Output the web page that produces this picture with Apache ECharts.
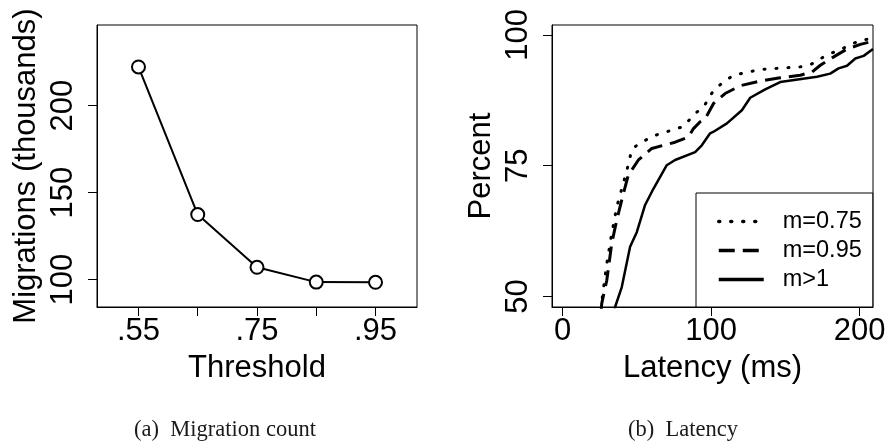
<!DOCTYPE html>
<html>
<head>
<meta charset="utf-8">
<script src="https://cdn.jsdelivr.net/npm/echarts@6/dist/echarts.min.js"></script>
<style>html,body{margin:0;padding:0;background:#fff}#c{width:889px;height:442px}</style>
</head>
<body>
<div id="c"></div>
<script>
// ---- Panel (a): migration count ----
var thresholds = [0.55, 0.65, 0.75, 0.85, 0.95];
var migrations = [222.2, 137.4, 107.1, 98.6, 98.5];
var thresholdTicks = [0.55, 0.65, 0.75, 0.85, 0.95];
var thresholdLabels = [0.55, 0.75, 0.95];
var migrationTicks = [100, 150, 200];

// ---- Panel (b): latency CDF ----
var latencyNames = ['m=0.75', 'm=0.95', 'm>1'];
var latX075 = [26.0, 26.3, 29.7, 33.0, 36.4, 43.2, 46.5, 51.0, 62.2, 74.6, 81.3, 89.2, 94.8, 101.6, 108.3, 115.0, 133.0, 160.0, 166.8, 176.9, 189.2, 200.5, 209.0];
var latY075 = [47.5, 49.0, 56.3, 62.0, 67.1, 74.1, 78.0, 79.2, 80.8, 81.9, 82.5, 85.0, 86.2, 89.4, 91.0, 92.3, 93.4, 93.9, 94.3, 96.0, 97.5, 99.0, 99.3];
var latX095 = [26.0, 26.3, 29.7, 33.0, 36.4, 40.9, 44.2, 51.0, 60.0, 75.7, 84.7, 88.1, 92.6, 96.0, 101.6, 109.4, 119.6, 133.0, 146.5, 160.0, 167.9, 173.5, 182.5, 191.5, 200.5, 209.0];
var latY095 = [47.5, 48.7, 53.1, 60.1, 64.6, 69.7, 73.2, 76.1, 78.3, 79.5, 80.5, 82.1, 83.4, 84.0, 86.9, 88.8, 90.3, 91.2, 91.8, 92.3, 92.9, 94.2, 95.8, 97.3, 98.2, 98.8];
var latX1 = [35.0, 35.3, 39.8, 45.4, 49.9, 55.5, 61.1, 70.1, 75.7, 89.2, 93.7, 99.3, 101.6, 110.6, 120.7, 126.3, 136.4, 146.5, 171.3, 180.2, 185.8, 191.5, 197.1, 202.7, 209.0];
var latY1 = [47.5, 48.0, 51.8, 59.5, 62.3, 67.5, 70.6, 75.1, 76.1, 77.6, 78.9, 81.2, 81.5, 83.1, 85.6, 88.0, 89.6, 91.0, 92.0, 92.6, 93.6, 94.1, 95.5, 96.0, 97.3];
var latencyTicks = [0, 100, 200];
var percentTicks = [50, 75, 100];

var captions = ['(a)  Migration count', '(b)  Latency'];

function zip(xs, ys) { return xs.map(function (x, i) { return [x, ys[i]]; }); }

var FONT = 'Liberation Sans, Arial, Helvetica, sans-serif';
var SERIF = 'Liberation Serif, Times New Roman, serif';
var FS = 31;
var black = '#000';

function valAxis(opts) {
  return Object.assign({
    type: 'value',
    splitLine: { show: false },
    axisLine: { show: true, onZero: false, lineStyle: { color: black, width: 1 } },
    nameTextStyle: { color: black, fontFamily: FONT, fontSize: FS },
    nameLocation: 'middle'
  }, opts);
}

var chart = echarts.init(document.getElementById('c'), null, { renderer: 'canvas' });
var option = {
  animation: false,
  backgroundColor: '#fff',
  textStyle: { fontFamily: FONT },
  title: [
    { text: captions[0], left: 225, top: 419, padding: 0, textAlign: 'center',
      textStyle: { fontFamily: SERIF, fontWeight: 'normal', fontSize: 22.5, color: '#1a1a1a' } },
    { text: captions[1], left: 683, top: 419, padding: 0, textAlign: 'center',
      textStyle: { fontFamily: SERIF, fontWeight: 'normal', fontSize: 22.5, color: '#1a1a1a' } }
  ],
  grid: [
    { left: 97, top: 25, width: 320, height: 282, show: true, borderColor: black, borderWidth: 1, backgroundColor: 'transparent' },
    { left: 552, top: 25, width: 321, height: 282, show: true, borderColor: black, borderWidth: 1, backgroundColor: 'transparent' }
  ],
  xAxis: [
    valAxis({
      gridIndex: 0, min: 0.48, max: 1.02, name: 'Threshold', nameGap: 46,
      axisTick: { show: true, inside: false, length: 9, lineStyle: { color: black }, customValues: thresholdTicks },
      axisLabel: { color: black, fontFamily: FONT, fontSize: FS, margin: 9, customValues: thresholdLabels,
        formatter: function (v) { return v.toFixed(2).replace(/^0/, ''); } }
    }),
    valAxis({
      gridIndex: 1, min: -7.2, max: 209, name: 'Latency (ms)', nameGap: 46,
      axisTick: { show: true, inside: false, length: 9, lineStyle: { color: black }, customValues: latencyTicks },
      axisLabel: { color: black, fontFamily: FONT, fontSize: FS, margin: 9, customValues: latencyTicks }
    })
  ],
  yAxis: [
    valAxis({
      gridIndex: 0, min: 84.3, max: 246.3, name: 'Migrations (thousands)', nameGap: 55,
      axisTick: { show: true, inside: false, length: 9, lineStyle: { color: black }, customValues: migrationTicks },
      axisLabel: { color: black, fontFamily: FONT, fontSize: FS, margin: 18, rotate: 90, customValues: migrationTicks }
    }),
    valAxis({
      gridIndex: 1, min: 48, max: 101.9, name: 'Percent', nameGap: 55,
      axisTick: { show: true, inside: false, length: 9, lineStyle: { color: black }, customValues: percentTicks },
      axisLabel: { color: black, fontFamily: FONT, fontSize: FS, margin: 18, rotate: 90, customValues: percentTicks }
    })
  ],
  legend: {
    data: latencyNames,
    orient: 'vertical',
    left: 696, top: 193,
    padding: [14, 11, 13, 21],
    itemGap: 0,
    itemWidth: 45, itemHeight: 29,
    borderColor: black, borderWidth: 1,
    backgroundColor: '#fff',
    selectedMode: false,
    itemStyle: { opacity: 0, borderWidth: 0 },
    lineStyle: { width: 3.5 },
    textStyle: { color: black, fontFamily: FONT, fontSize: 23.5, lineHeight: 29, padding: [0, 0, 0, 14] }
  },
  series: [
    { type: 'line', xAxisIndex: 0, yAxisIndex: 0, data: zip(thresholds, migrations),
      symbol: 'circle', symbolSize: 13, showSymbol: true,
      lineStyle: { color: black, width: 2 },
      itemStyle: { color: '#fff', borderColor: black, borderWidth: 2 }, z: 3 },
    { type: 'line', name: latencyNames[0], xAxisIndex: 1, yAxisIndex: 1, data: zip(latX075, latY075),
      symbol: 'none', clip: true, color: black,
      lineStyle: { color: black, width: 3, type: [1, 11], cap: 'round' } },
    { type: 'line', name: latencyNames[1], xAxisIndex: 1, yAxisIndex: 1, data: zip(latX095, latY095),
      symbol: 'none', clip: true, color: black,
      lineStyle: { color: black, width: 3, type: [16, 8], cap: 'butt' } },
    { type: 'line', name: latencyNames[2], xAxisIndex: 1, yAxisIndex: 1, data: zip(latX1, latY1),
      symbol: 'none', clip: true, color: black,
      lineStyle: { color: black, width: 2.5 } }
  ]
};
chart.setOption(option);
</script>
</body>
</html>
